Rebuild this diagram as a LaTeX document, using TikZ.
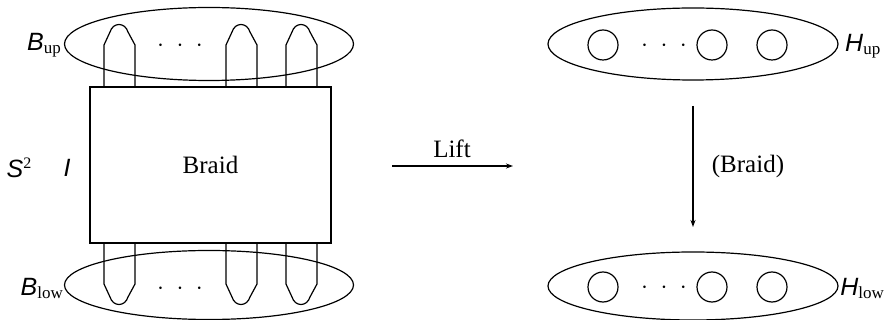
\documentclass[tikz,border=0pt]{standalone}
\usepackage{fontspec}
\setmainfont{Liberation Serif}
\newfontfamily\sfit{Liberation Sans}
\usetikzlibrary{shapes.geometric,arrows.meta}
\tikzset{
  ln/.style={line width=1.2pt},
  bigell/.style={ln, draw, ellipse, inner sep=0pt, minimum width=289pt, minimum height=73pt},
  hole/.style={ln, draw, circle, inner sep=0pt, minimum size=30pt},
  lbl/.style={inner sep=0pt, font=\fontsize{25}{30}\selectfont},
  arr/.style={ln, -{Stealth[length=7pt,width=5pt]}},
  dots/.style={inner sep=0pt, font=\fontsize{25}{30}\selectfont}
}
\newcommand{\capit}[1]{{\sfit\itshape #1}}
\newcommand{\subl}[1]{{\fontsize{17}{20}\selectfont\raisebox{-3pt}{#1}}}
\begin{document}
\begin{tikzpicture}[x=1pt,y=-1pt]
\useasboundingbox (0,0) rectangle (884,320);
% left side
\node[bigell] (Bup) at (209,44) {};
\node[bigell, minimum height=69pt] (Blow) at (209,285) {};
\node[ln, draw, rectangle, minimum width=241pt, minimum height=156pt, inner sep=0pt, lbl] (box) at (210.5,165) {Braid};
% strands
\foreach \a in {104,226,286}{
  \draw[ln] (\a,87) -- (\a,45) -- (\a+6,32) .. controls (\a+9,22) and (\a+21,22) .. (\a+24,32) -- (\a+31,45) -- (\a+31,87);
  \draw[ln] (\a,243) -- (\a,284) -- (\a+6,297) .. controls (\a+9,307) and (\a+21,307) .. (\a+24,297) -- (\a+31,284) -- (\a+31,243);
}
\node[dots] (dup) at (180,46) {$\cdot\;\cdot\;\cdot$};
\node[dots] (dlow) at (180,289) {$\cdot\;\cdot\;\cdot$};
\node[lbl, anchor=east] (lBup) at (61,45) {\capit{B}\subl{up}};
\node[lbl, anchor=east] (lBlow) at (63,288) {\capit{B}\subl{low}};
\node[lbl] (S2) at (19,168) {\capit{S}\raisebox{9pt}{\fontsize{16}{18}\selectfont 2}};
\node[lbl] (Ilbl) at (67,168) {\capit{I}};
% lift arrow
\coordinate (la) at (392,166);
\coordinate (lb) at (513,166);
\draw[arr] (la) -- (lb);
\node[lbl] (lift) at (452,149) {Lift};
% right side
\node[bigell, minimum width=290pt, minimum height=72pt] (Hup) at (693,44) {};
\node[bigell, minimum width=290pt, minimum height=68pt] (Hlow) at (693,286) {};
\foreach \y/\n in {45/u,287/l}{
  \node[hole] (c1\n) at (603,\y) {};
  \node[hole] (c2\n) at (712,\y) {};
  \node[hole] (c3\n) at (772,\y) {};
  \node[dots] (d\n) at (664,\y+1) {$\cdot\;\cdot\;\cdot$};
}
\node[lbl, anchor=west] (lHup) at (845,46) {\capit{H}\subl{up}};
\node[lbl, anchor=east] (lHlow) at (884,288) {\capit{H}\subl{low}};
\coordinate (va) at (693,106);
\coordinate (vb) at (693,227);
\draw[arr] (va) -- (vb);
\node[lbl] (braidlbl) at (748,166) {(Braid)};
\end{tikzpicture}
\end{document}
